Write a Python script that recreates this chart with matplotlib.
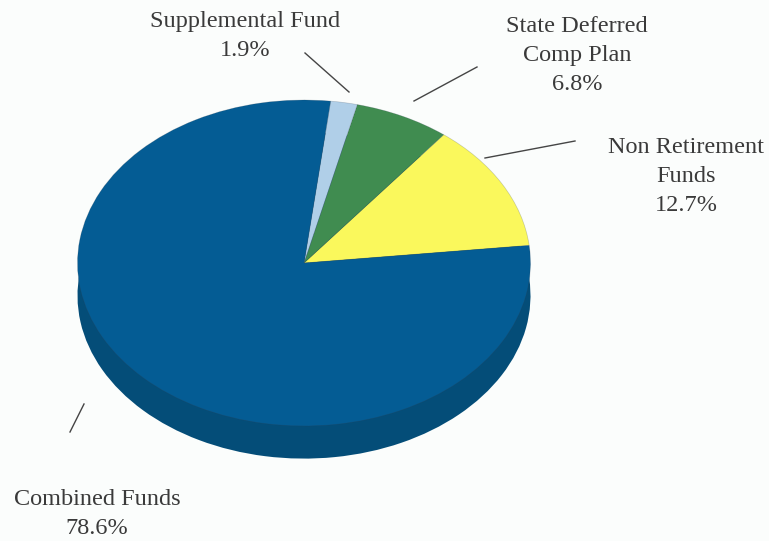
import matplotlib
matplotlib.use("Agg")
import matplotlib.pyplot as plt

labels = ["Non Retirement\nFunds\n12.7%", "State Deferred\nComp Plan\n6.8%", "Supplemental Fund\n1.9%", "Combined Funds\n78.6%"]
values = [12.7, 6.8, 1.9, 78.6]
colors = ["#FAF85C", "#408C50", "#B0CFE8", "#045C94"]
side_colors = ["#044D78", "#044D78", "#044D78", "#044D78"]
label_centers = [(686, 177), (577, 56), (245, 36), (97, 514)]
leaders = [((485, 158), (575, 141)), ((414, 101), (477, 67)), ((305, 53), (349, 92)), ((70, 432), (84, 404))]

W, H = 769, 541
CX, CY, RX, RY = 304, 263, 226.5, 163
plt.rcParams['font.family'] = ['Liberation Serif', 'DejaVu Serif']
fig = plt.figure(figsize=(W/100, H/100), dpi=100, facecolor="#FBFDFC")
ax = fig.add_axes([0, 0, 1, 1])
ax.pie(values, colors=side_colors, startangle=6.2, radius=1.0, center=(0, -0.2),
       wedgeprops=dict(linewidth=0))
ax.pie(values, colors=colors, startangle=6.2, radius=1.0,
       wedgeprops=dict(linewidth=0.5, edgecolor="#30405040"))
ax.set_aspect("auto")
ax.set_xlim(-CX/RX, (W-CX)/RX)
ax.set_ylim(-(H-CY)/RY, CY/RY)

def fx(x): return x / W
def fy(y): return 1 - y / H

for (a, b) in leaders:
    fig.add_artist(plt.Line2D([fx(a[0]), fx(b[0])], [fy(a[1]), fy(b[1])],
                              color="#454545", lw=1.0))
for txt, (x, y) in zip(labels, label_centers):
    fig.text(fx(x), fy(y), txt, ha="center", va="center", fontsize=17.5,
             color="#3A3A3A", linespacing=1.5)
fig.savefig("out.png", dpi=100, facecolor=fig.get_facecolor())
